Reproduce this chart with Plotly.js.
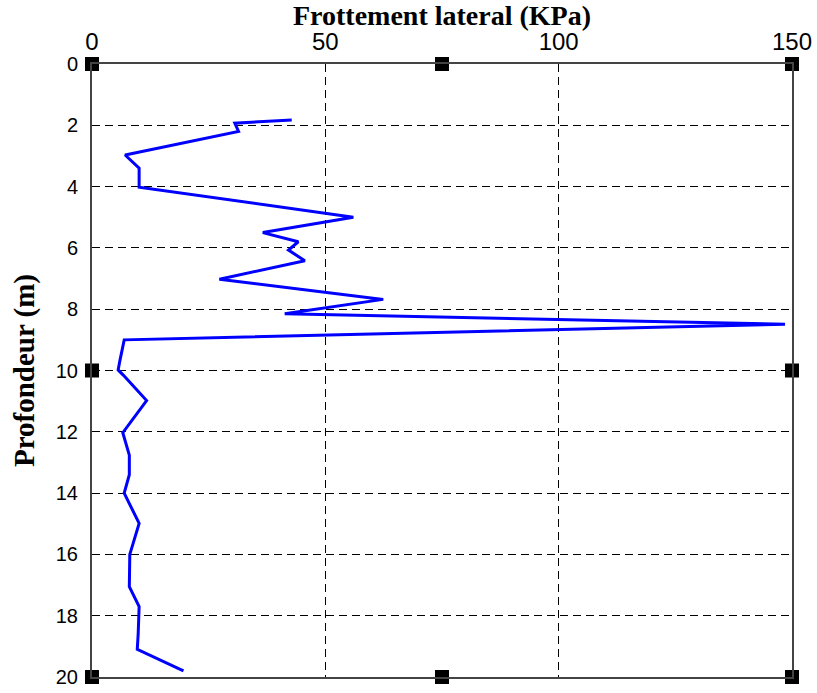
<!DOCTYPE html>
<html>
<head>
<meta charset="utf-8">
<script src="https://cdn.plot.ly/plotly-3.0.1.min.js"></script>
<style>
  html, body { margin: 0; padding: 0; background: #fff; }
  #chart { width: 817px; height: 693px; }
</style>
</head>
<body>
<div id="chart"></div>
<script>
// Lateral friction profile versus depth
const depthM = [1.83, 1.93, 2.2, 2.97, 3.4, 4.02, 5.0, 5.5, 5.8, 6.07, 6.42, 7.02, 7.68, 8.15, 8.49,
                9.0, 9.66, 9.98, 10.15, 10.98, 12.03, 12.76, 13.4, 14.0, 14.99, 16.0, 17.05, 17.7,
                18.58, 19.1, 19.8];
const frictionKPa = [42.8, 30.6, 31.4, 7.1, 10.1, 10.1, 56.0, 36.6, 44.2, 42.1, 45.6, 27.3, 62.4, 41.3, 148.5,
                     6.9, 6.0, 5.6, 6.7, 11.7, 6.6, 8.0, 8.0, 6.9, 10.1, 8.1, 8.0, 10.1,
                     9.9, 9.7, 19.6];

// Square frame markers on the box edges
const frameX = [0, 75, 150, 0, 150, 0, 75, 150];
const frameY = [0, 0, 0, 10, 10, 20, 20, 20];

const xTicks = [0, 50, 100, 150];
const yTicks = [0, 2, 4, 6, 8, 10, 12, 14, 16, 18, 20];

const traces = [
  {
    x: frictionKPa, y: depthM, type: 'scatter', mode: 'lines',
    line: { color: '#0000ff', width: 3 },
    hoverinfo: 'skip'
  },
  {
    x: frameX, y: frameY, type: 'scatter', mode: 'markers',
    marker: { symbol: 'square', size: 14, color: '#000' },
    cliponaxis: false, hoverinfo: 'skip'
  }
];

const layout = {
  width: 817, height: 693,
  margin: { l: 92, r: 25, t: 64, b: 16 },
  paper_bgcolor: '#fff', plot_bgcolor: '#fff',
  showlegend: false,
  xaxis: {
    side: 'top', range: [0, 150], tickvals: xTicks, ticktext: xTicks.map(String),
    showgrid: true, gridcolor: '#000', gridwidth: 1, griddash: '8px,5px',
    zeroline: false, showline: true, mirror: true, linecolor: '#444', linewidth: 2,
    ticks: '', ticklabelstandoff: 2,
    tickfont: { family: 'Liberation Sans, Arial, sans-serif', size: 24, color: '#000' },
    title: {
      text: 'Frottement lateral (KPa)', standoff: 0,
      font: { family: 'Liberation Serif, Times New Roman, serif', size: 28, color: '#000', weight: 'bold' }
    }
  },
  yaxis: {
    range: [20, 0], tickvals: yTicks, ticktext: yTicks.map(String),
    showgrid: true, gridcolor: '#000', gridwidth: 1, griddash: '8px,5px',
    zeroline: false, showline: true, mirror: true, linecolor: '#444', linewidth: 2,
    ticks: '', ticklabelstandoff: 8,
    tickfont: { family: 'Liberation Sans, Arial, sans-serif', size: 20, color: '#000' },
    title: {
      text: 'Profondeur (m)', standoff: 13,
      font: { family: 'Liberation Serif, Times New Roman, serif', size: 29, color: '#000', weight: 'bold' }
    }
  }
};

Plotly.newPlot('chart', traces, layout, { displayModeBar: false, staticPlot: true });
</script>
</body>
</html>
